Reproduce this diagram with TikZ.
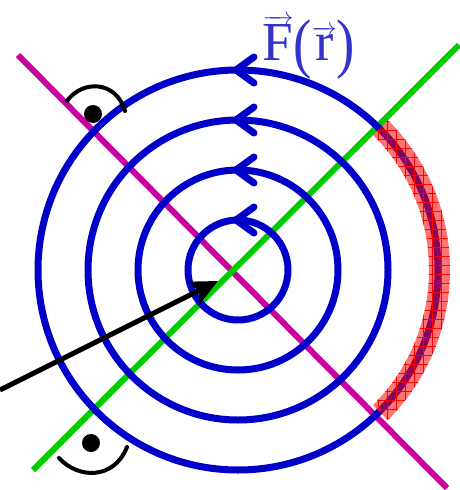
\documentclass[tikz,border=0pt]{standalone}
\usepackage{fontspec}
\setmainfont{Liberation Serif}
\usetikzlibrary{arrows.meta,patterns.meta}
\definecolor{cblue}{RGB}{0,0,200}
\definecolor{cmag}{RGB}{200,0,160}
\definecolor{cgreen}{RGB}{0,204,0}
\definecolor{clabel}{RGB}{51,51,204}
\newcommand{\tallparen}[1]{\raisebox{-0.1em}{\scalebox{1}[1.2]{#1}}}
\begin{document}
\begin{tikzpicture}[x=1pt,y=-1pt,
  ring/.style={draw=cblue,line width=7pt},
  chev/.style={draw=cblue,line width=7pt,line cap=round,line join=round},
  axisline/.style={line width=6pt},
  eye/.style={line width=4pt,line cap=round},
  pupil/.style={fill=black}]
\useasboundingbox (0,0) rectangle (459,490);
\coordinate (C) at (238,270);
% lines
\coordinate (M0) at (18,55);
\coordinate (M1) at (447,488);
\coordinate (G0) at (33,470);
\coordinate (G1) at (459,45);
\draw[axisline,cmag] (M0) -- (M1);
\draw[axisline,cgreen] (G0) -- (G1);
% circles
\foreach \r in {50,100,150,200}{
  \draw[ring] (C) circle[radius=\r];
  \draw[chev] ([shift={(16,-13)}]238,270-\r) -- ([shift={(-2,0)}]238,270-\r) -- ([shift={(16,13)}]238,270-\r);
}
% red band
\path[fill=red,fill opacity=0.55]
  ([shift={(238,270)}]-45:212) arc[start angle=-45,end angle=45,radius=212]
  -- ([shift={(238,270)}]45:191) arc[start angle=45,end angle=-45,radius=191] -- cycle;
\path[pattern={Hatch[angle=0,distance=9pt,line width=0.5pt]},pattern color=red]
  ([shift={(238,270)}]-45:212) arc[start angle=-45,end angle=45,radius=212]
  -- ([shift={(238,270)}]45:191) arc[start angle=45,end angle=-45,radius=191] -- cycle;
% eyes
\fill[pupil] (93,114) circle[radius=9];
\draw[eye] (67,101) .. controls (82,80) and (116,80) .. (125,111);
\fill[pupil] (91,443) circle[radius=9];
\draw[eye] (59,458) .. controls (78,479) and (114,480) .. (127,447);
% position arrow
\coordinate (A0) at (0,390);
\coordinate (A1) at (218,281);
\draw[line width=5pt,-{Stealth[length=26pt,width=24pt,inset=4pt]}] (A0) -- (A1);
% label
\node[text=clabel,font=\fontsize{55}{60}\selectfont,anchor=base,inner sep=0pt] (F) at (309,60)
  {$\overrightarrow{\hbox{F}}\hbox{\tallparen{(}}\overrightarrow{\hbox{r}}\hbox{\tallparen{)}}$};
\end{tikzpicture}
\end{document}
